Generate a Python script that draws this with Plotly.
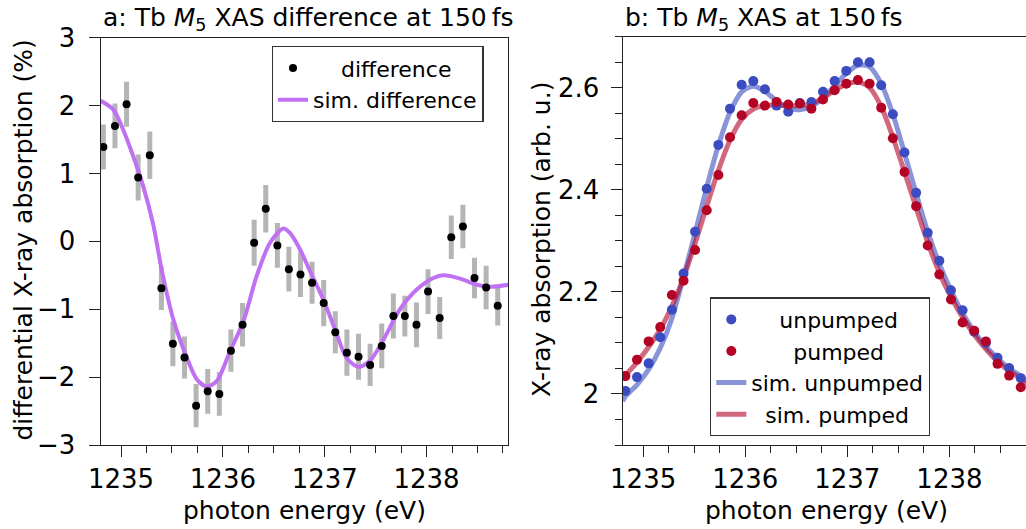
import plotly.graph_objects as go

# ---------------- data ----------------
energy = [1234.826, 1234.940, 1235.054, 1235.168, 1235.282, 1235.396, 1235.509,
          1235.623, 1235.737, 1235.851, 1235.965, 1236.079, 1236.193, 1236.307,
          1236.421, 1236.535, 1236.648, 1236.762, 1236.876, 1236.990, 1237.104,
          1237.218, 1237.332, 1237.446, 1237.560, 1237.674, 1237.787, 1237.901,
          1238.015, 1238.129, 1238.243, 1238.357, 1238.471, 1238.585, 1238.699]

difference = [1.39, 1.70, 2.02, 0.94, 1.27, -0.69, -1.51, -1.71, -2.42, -2.21,
              -2.25, -1.61, -1.23, -0.02, 0.48, -0.06, -0.41, -0.49, -0.61, -0.91,
              -1.34, -1.64, -1.70, -1.82, -1.54, -1.10, -1.10, -1.23, -0.74, -1.13,
              0.06, 0.22, -0.54, -0.68, -0.95]

difference_err = [0.33, 0.33, 0.33, 0.34, 0.35, 0.32, 0.33, 0.31, 0.32, 0.33,
                  0.32, 0.31, 0.32, 0.34, 0.35, 0.33, 0.33, 0.33, 0.31, 0.34,
                  0.31, 0.34, 0.34, 0.31, 0.33, 0.33, 0.30, 0.33, 0.33, 0.31,
                  0.32, 0.32, 0.30, 0.32, 0.29]

sim_diff_energy = [1234.800, 1234.924, 1235.022, 1235.120, 1235.218, 1235.317,
                   1235.399, 1235.513, 1235.645, 1235.743, 1235.841, 1235.939,
                   1236.070, 1236.201, 1236.332, 1236.463, 1236.594, 1236.660,
                   1236.758, 1236.856, 1236.987, 1237.102, 1237.216, 1237.331,
                   1237.445, 1237.576, 1237.740, 1237.904, 1238.067, 1238.165,
                   1238.330, 1238.493, 1238.624, 1238.804]
sim_difference = [2.07, 1.94, 1.64, 1.25, 0.81, 0.24, -0.42, -1.15, -1.71, -2.03,
                  -2.14, -2.06, -1.62, -1.18, -0.51, -0.02, 0.19, 0.12, -0.12,
                  -0.44, -0.86, -1.30, -1.72, -1.85, -1.76, -1.45, -1.00, -0.71,
                  -0.54, -0.50, -0.55, -0.64, -0.67, -0.64]

unpumped = [2.006, 2.033, 2.060, 2.111, 2.165, 2.236, 2.318, 2.402, 2.488, 2.559,
            2.606, 2.613, 2.597, 2.565, 2.553, 2.570, 2.572, 2.592, 2.613, 2.633,
            2.650, 2.650, 2.605, 2.548, 2.473, 2.394, 2.316, 2.261, 2.203, 2.164,
            2.122, 2.100, 2.071, 2.051, 2.031]

pumped = [2.035, 2.067, 2.103, 2.131, 2.194, 2.222, 2.282, 2.360, 2.429, 2.503,
          2.546, 2.570, 2.565, 2.572, 2.567, 2.569, 2.559, 2.577, 2.595, 2.608,
          2.615, 2.608, 2.561, 2.501, 2.435, 2.368, 2.291, 2.234, 2.185, 2.140,
          2.124, 2.103, 2.059, 2.036, 2.013]

sim_xas_energy = [1234.800, 1234.826, 1234.940, 1235.054, 1235.168, 1235.282,
                  1235.396, 1235.509, 1235.623, 1235.737, 1235.851, 1235.965,
                  1236.079, 1236.193, 1236.307, 1236.421, 1236.535, 1236.648,
                  1236.762, 1236.876, 1236.990, 1237.104, 1237.218, 1237.332,
                  1237.446, 1237.560, 1237.674, 1237.787, 1237.901, 1238.015,
                  1238.129, 1238.243, 1238.357, 1238.471, 1238.585, 1238.699,
                  1238.750]
sim_unpumped = [1.986, 1.995, 2.018, 2.048, 2.090, 2.148, 2.230, 2.315, 2.405,
                2.487, 2.552, 2.592, 2.603, 2.593, 2.574, 2.560, 2.557, 2.563,
                2.580, 2.604, 2.628, 2.644, 2.641, 2.608, 2.548, 2.472, 2.393,
                2.318, 2.255, 2.203, 2.158, 2.122, 2.093, 2.070, 2.050, 2.035,
                2.025]
sim_pumped = [2.028, 2.036, 2.062, 2.092, 2.127, 2.172, 2.228, 2.295, 2.368,
              2.438, 2.497, 2.538, 2.558, 2.565, 2.566, 2.565, 2.565, 2.569,
              2.580, 2.595, 2.607, 2.611, 2.600, 2.563, 2.503, 2.435, 2.365,
              2.297, 2.238, 2.190, 2.150, 2.116, 2.088, 2.064, 2.045, 2.030,
              2.018]

xas_tickvals = [2.0, 2.2, 2.4, 2.6]
xas_ticktext = ["2", "2.2", "2.4", "2.6"]

# ---------------- layout helpers ----------------
W, H = 1026, 529
FONT = "DejaVu Sans"
AX = "#222222"


def px(x):
    return x / W


def py(y):
    return 1 - y / H


NB = "\u00a0"

fig = go.Figure()

# ---- panel a ----
fig.add_trace(go.Scatter(
    x=energy, y=difference, mode="markers",
    marker=dict(size=1, color="rgba(0,0,0,0)"),
    error_y=dict(type="data", array=difference_err, visible=True,
                 thickness=5, width=0, color="#b5b5b5"),
    showlegend=False, xaxis="x", yaxis="y", hoverinfo="skip"))
fig.add_trace(go.Scatter(
    x=sim_diff_energy, y=sim_difference, mode="lines",
    line=dict(color="rgb(192,112,242)", width=4, shape="spline", smoothing=0.8),
    name="sim. difference", legend="legend", legendrank=2,
    xaxis="x", yaxis="y"))
fig.add_trace(go.Scatter(
    x=energy, y=difference, mode="markers",
    marker=dict(size=8, color="black"),
    name=NB * 4 + "difference", legend="legend", legendrank=1,
    xaxis="x", yaxis="y"))

# ---- panel b ----
fig.add_trace(go.Scatter(
    x=sim_xas_energy, y=sim_unpumped, mode="lines",
    line=dict(color="rgba(59,76,192,0.6)", width=5, shape="spline", smoothing=0.8),
    name="sim. unpumped", legend="legend2", legendrank=3,
    xaxis="x2", yaxis="y2"))
fig.add_trace(go.Scatter(
    x=sim_xas_energy, y=sim_pumped, mode="lines",
    line=dict(color="rgba(180,4,38,0.6)", width=5, shape="spline", smoothing=0.8),
    name=NB * 2 + "sim. pumped", legend="legend2", legendrank=4,
    xaxis="x2", yaxis="y2"))
fig.add_trace(go.Scatter(
    x=energy, y=unpumped, mode="markers",
    marker=dict(size=10, color="#3b4cc0"),
    name=NB * 4 + "unpumped", legend="legend2", legendrank=1,
    xaxis="x2", yaxis="y2"))
fig.add_trace(go.Scatter(
    x=energy, y=pumped, mode="markers",
    marker=dict(size=10, color="#b40426"),
    name=NB * 6 + "pumped", legend="legend2", legendrank=2,
    xaxis="x2", yaxis="y2"))

common = dict(showline=True, linecolor=AX, linewidth=1.3, ticks="outside",
              tickcolor=AX, tickwidth=1.3, ticklen=11, showgrid=False,
              zeroline=False, automargin=False,
              tickfont=dict(family=FONT, size=26, color="black"))

xminor = dict(dtick=0.25, tick0=1235, ticks="outside", ticklen=7,
              tickwidth=1.3, tickcolor=AX, showgrid=False)

fig.update_layout(
    width=W, height=H,
    margin=dict(l=0, r=0, t=0, b=0),
    paper_bgcolor="white", plot_bgcolor="white",
    font=dict(family=FONT, color="black"),
    xaxis=dict(domain=[px(100.7), px(508)], range=[1234.8, 1238.8],
               tick0=1235, dtick=1, mirror=True, anchor="y",
               minor=xminor, **common),
    yaxis=dict(domain=[py(445), py(37.7)], range=[-3, 3], dtick=1,
               mirror=True, anchor="x", ticklabelstandoff=8, **common),
    xaxis2=dict(domain=[px(622.7), 1.0], range=[1234.8, 1238.75],
                tick0=1235, dtick=1, mirror=True, anchor="y2",
                minor=xminor, **common),
    yaxis2=dict(domain=[py(445), py(36.7)], range=[1.9, 2.7],
                tickvals=xas_tickvals, ticktext=xas_ticktext,
                mirror=False, anchor="x2", ticklabelstandoff=6,
                minor=dict(dtick=0.05, tick0=2.0, ticks="outside", ticklen=7,
                           tickwidth=1.3, tickcolor=AX, showgrid=False),
                **common),
    legend=dict(x=px(271.7), y=py(46), xanchor="left", yanchor="top",
                bordercolor="#333333", borderwidth=1.3, bgcolor="white",
                font=dict(family=FONT, size=22, color="black"),
                itemwidth=30, tracegroupgap=0, traceorder="normal",
                entrywidth=184, entrywidthmode="pixels"),
    legend2=dict(x=px(710), y=py(297.3), xanchor="left", yanchor="top",
                 bordercolor="#333333", borderwidth=1.3, bgcolor="white",
                 font=dict(family=FONT, size=22, color="black"),
                 itemwidth=30, tracegroupgap=0, traceorder="normal",
                 entrywidth=190, entrywidthmode="pixels"),
)

ann_font = dict(family=FONT, size=25, color="black")
title_font = dict(family=FONT, size=25, color="black")
annotations = [
    dict(text="a: Tb <i>M</i><sub>5</sub> XAS difference at 150\u2009fs",
         x=px(100.7), y=py(19), xanchor="left", yanchor="middle",
         font=title_font),
    dict(text="b: Tb <i>M</i><sub>5</sub> XAS at 150\u2009fs",
         x=px(622.7), y=py(19), xanchor="left", yanchor="middle",
         font=title_font),
    dict(text="photon energy (eV)", x=px(304.4), y=py(510),
         xanchor="center", yanchor="middle", font=ann_font),
    dict(text="photon energy (eV)", x=px(826.4), y=py(510),
         xanchor="center", yanchor="middle", font=ann_font),
    dict(text="differential X-ray absorption (%)", x=px(22.5), y=py(240),
         xanchor="center", yanchor="middle", textangle=-90, font=ann_font),
    dict(text="X-ray absorption (arb. u.)", x=px(541), y=py(240),
         xanchor="center", yanchor="middle", textangle=-90, font=ann_font),
]
for a in annotations:
    a.update(xref="paper", yref="paper", showarrow=False)
fig.update_layout(annotations=annotations)

fig.write_html("out.html")
